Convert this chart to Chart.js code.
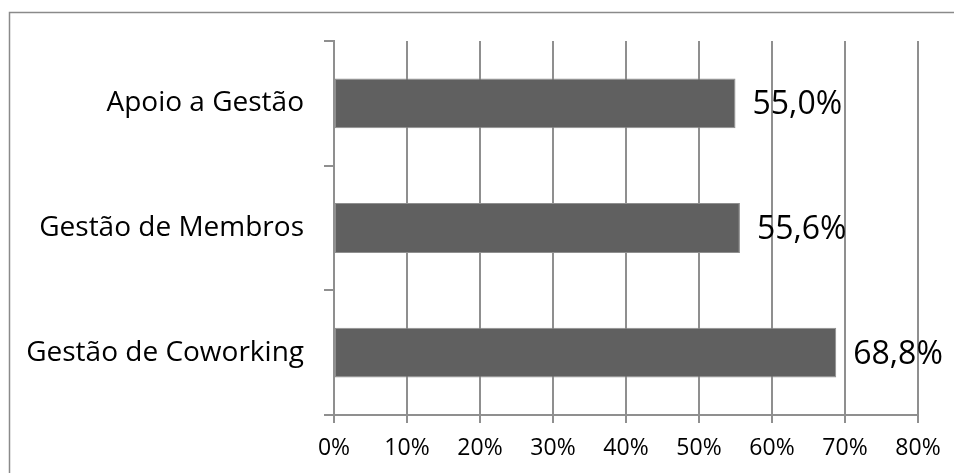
<!DOCTYPE html>
<html>
<head>
<meta charset="utf-8">
<script src="https://cdn.jsdelivr.net/npm/chart.js@4/dist/chart.umd.min.js"></script>
<style>
  html, body { margin: 0; padding: 0; background: #ffffff; }
  #wrap { width: 954px; height: 473px; position: relative; }
</style>
</head>
<body>
<div id="wrap"><canvas id="c"></canvas></div>
<script>
const categories = ['Apoio a Gestão', 'Gestão de Membros', 'Gestão de Coworking'];
const values = [55.0, 55.6, 68.8];
const xTicks = [0, 10, 20, 30, 40, 50, 60, 70, 80];

const FONT = "'Open Sans', 'DejaVu Sans', sans-serif";

const frame = {
  id: 'frame',
  beforeDraw(chart) {
    const ctx = chart.ctx;
    ctx.save();
    ctx.fillStyle = '#ffffff';
    ctx.fillRect(0, 0, chart.width, chart.height);
    ctx.strokeStyle = '#8a8a8a';
    ctx.lineWidth = 1.5;
    ctx.strokeRect(9.5, 12.5, chart.width + 20, chart.height + 20);
    ctx.restore();
  }
};

const valueLabels = {
  id: 'valueLabels',
  afterDatasetsDraw(chart) {
    const ctx = chart.ctx;
    const meta = chart.getDatasetMeta(0);
    ctx.save();
    ctx.font = '32px ' + FONT;
    ctx.fillStyle = '#000000';
    ctx.textAlign = 'left';
    ctx.textBaseline = 'middle';
    meta.data.forEach((bar, i) => {
      const txt = values[i].toFixed(1).replace('.', ',') + '%';
      ctx.fillText(txt, bar.x + 17, bar.y + 2);
    });
    ctx.restore();
  }
};

new Chart(document.getElementById('c'), {
  type: 'bar',
  data: {
    labels: categories,
    datasets: [{
      data: values,
      backgroundColor: '#606060',
      borderColor: '#8f8f8f',
      borderWidth: 1,
      borderSkipped: false,
      categoryPercentage: 1.0,
      barPercentage: 0.4
    }]
  },
  options: {
    indexAxis: 'y',
    responsive: true,
    maintainAspectRatio: false,
    animation: false,
    devicePixelRatio: 1,
    layout: { padding: { left: 0, right: 36, top: 41, bottom: 0 } },
    plugins: {
      legend: { display: false },
      tooltip: { enabled: false }
    },
    scales: {
      x: {
        type: 'linear',
        min: 0,
        max: 80,
        afterBuildTicks(scale) { scale.ticks = xTicks.map(v => ({ value: v })); },
        afterFit(scale) { scale.height = 58; },
        ticks: {
          callback: v => v + '%',
          font: { family: FONT, size: 23 },
          color: '#000000',
          padding: 12,
          maxRotation: 0,
          autoSkip: false
        },
        grid: {
          color: '#8f8f8f',
          lineWidth: 2,
          tickLength: 8,
          drawTicks: true
        },
        border: { display: true, color: '#8f8f8f', width: 2 }
      },
      y: {
        type: 'category',
        offset: true,
        afterFit(scale) { scale.width = 334; },
        ticks: {
          font: { family: FONT, size: 28 },
          color: '#000000',
          padding: 20
        },
        grid: {
          offset: true,
          drawOnChartArea: false,
          drawTicks: true,
          tickLength: 10,
          color: '#8f8f8f',
          lineWidth: 2
        },
        border: { display: true, color: '#8f8f8f', width: 2 }
      }
    }
  },
  plugins: [frame, valueLabels]
});
</script>
</body>
</html>
